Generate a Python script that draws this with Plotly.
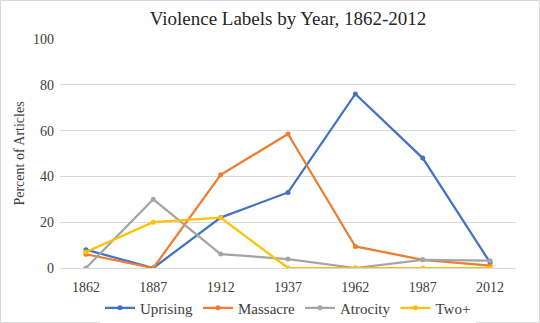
import plotly.graph_objects as go

years = ["1862", "1887", "1912", "1937", "1962", "1987", "2012"]
uprising = [8, 0, 22, 33, 76, 48, 2.4]
massacre = [6, 0, 40.7, 58.5, 9.4, 3.6, 1]
atrocity = [0, 30, 6.1, 3.9, 0, 3.6, 3.2]
two_plus = [7, 20, 22, 0, 0, 0, 0]

series = [
    ("Uprising", uprising, "#4472C4"),
    ("Massacre", massacre, "#ED7D31"),
    ("Atrocity", atrocity, "#A5A5A5"),
    ("Two+", two_plus, "#FFC000"),
]

serif = "Liberation Serif"

fig = go.Figure()
for name, vals, color in series:
    fig.add_trace(go.Scatter(
        x=years, y=vals, name=name, mode="lines+markers",
        line=dict(color=color, width=2.25),
        marker=dict(color=color, size=5, symbol="circle"),
    ))

# plot area: x 60..516 px, y 39..268 px
L, R, T, B = 60, 24, 39, 55
pw, ph = 540 - L - R, 323 - T - B

fig.update_layout(
    width=540, height=323,
    margin=dict(l=L, r=R, t=T, b=B, autoexpand=False),
    paper_bgcolor="white", plot_bgcolor="white",
    title=dict(text="Violence Labels by Year, 1862-2012", x=0.5, xanchor="center",
               xref="paper", yref="container", y=1 - 18 / 323, yanchor="middle",
               font=dict(family=serif, size=19, color="#262626")),
    font=dict(family=serif, color="#404040"),
    showlegend=True,
    legend=dict(orientation="h", x=0.5, xanchor="center", yref="container",
                y=1 - 308 / 323, yanchor="middle",
                font=dict(family=serif, size=15, color="#404040"),
                itemwidth=30, tracegroupgap=0),
    xaxis=dict(type="category", showgrid=False, showline=True, linecolor="#D9D9D9",
               ticks="", ticklabelstandoff=6,
               tickfont=dict(size=14, color="#404040")),
    yaxis=dict(range=[0, 100], dtick=20, showgrid=True, gridcolor="#D9D9D9",
               zeroline=False, showline=False, ticks="", ticklabelstandoff=5,
               tickfont=dict(size=14, color="#404040"),
               title=dict(text="Percent of Articles", font=dict(size=14, color="#404040"),
                          standoff=5)),
    shapes=[dict(type="rect", xref="paper", yref="paper",
                 x0=(0.5 - L) / pw, x1=(539.5 - L) / pw,
                 y0=-(322.5 - (T + ph)) / ph, y1=(T + ph - 0.5) / ph,
                 line=dict(color="#D9D9D9", width=1))],
)

fig.write_html("out.html")
